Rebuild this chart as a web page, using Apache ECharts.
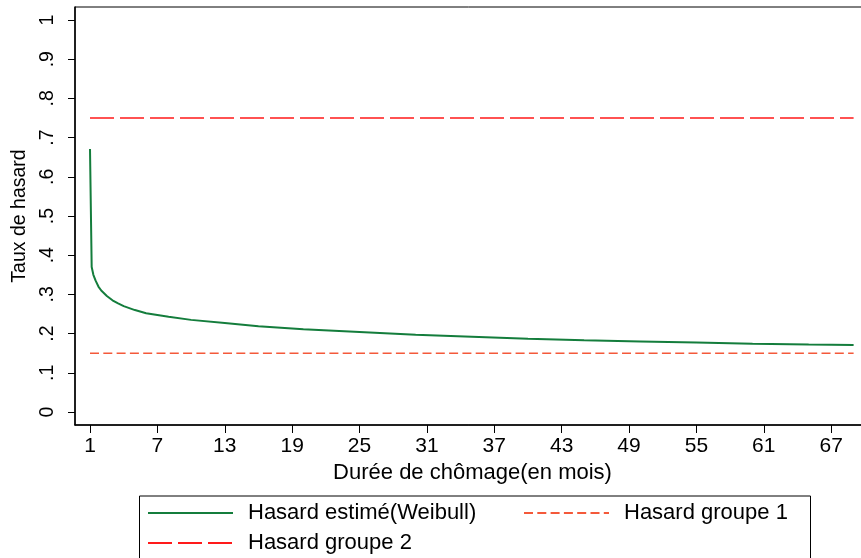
<!DOCTYPE html>
<html>
<head>
<meta charset="utf-8">
<script src="https://cdn.jsdelivr.net/npm/echarts@6/dist/echarts.min.js"></script>
<style>
html,body{margin:0;padding:0;background:#fff;}
#chart{width:861px;height:558px;}
</style>
</head>
<body>
<div id="chart"></div>
<script>
// ---- data ----
const duree = [1, 1.15, 1.3, 1.5, 1.75, 2, 2.5, 3, 3.5, 4, 5, 6, 8, 10, 13, 16, 20, 25, 30, 35, 40, 45, 50, 55, 60, 65, 69];
const hasardWeibull = [0.671, 0.37, 0.35, 0.335, 0.32, 0.31, 0.296, 0.285, 0.277, 0.270, 0.260, 0.252, 0.243, 0.235, 0.227, 0.219, 0.211, 0.204, 0.197, 0.192, 0.187, 0.183, 0.180, 0.177, 0.174, 0.172, 0.171];
const dureeGroupes = [1, 69];
const hasardGroupe1 = [0.15, 0.15];
const hasardGroupe2 = [0.75, 0.75];
const xTicks = [1, 7, 13, 19, 25, 31, 37, 43, 49, 55, 61, 67];
const yTicks = [0, 0.1, 0.2, 0.3, 0.4, 0.5, 0.6, 0.7, 0.8, 0.9, 1];
const yTickLabels = ['0', '.1', '.2', '.3', '.4', '.5', '.6', '.7', '.8', '.9', '1'];
const seriesNames = ['Hasard estimé(Weibull)', 'Hasard groupe 1', 'Hasard groupe 2'];

const pair = (xs, ys) => xs.map((x, i) => [x, ys[i]]);
const FONT = 'Liberation Sans';

const legendCommon = {
  orient: 'vertical', top: 502, height: 120,
  padding: 0, itemWidth: 85, itemHeight: 14, itemGap: 8,
  itemStyle: {opacity: 0, color: 'transparent', borderWidth: 0},
  textStyle: {fontFamily: FONT, fontSize: 22, lineHeight: 22, color: '#000', padding: [0, 0, 0, 10]},
  selectedMode: false
};

const chart = echarts.init(document.getElementById('chart'), null, {renderer: 'canvas'});
chart.setOption({
  animation: false,
  backgroundColor: '#fff',
  textStyle: {fontFamily: FONT, color: '#000'},
  grid: {
    left: 75, top: 7, width: 795, height: 418,
    show: true, borderColor: '#000', borderWidth: 1,
    containLabel: false, outerBoundsMode: 'none'
  },
  xAxis: {
    type: 'value', min: -0.336, max: 70.46,
    name: 'Durée de chômage(en mois)', nameLocation: 'middle', nameGap: 36,
    nameTextStyle: {fontFamily: FONT, fontSize: 22, color: '#000'},
    axisLine: {show: true, onZero: false, lineStyle: {color: '#000', width: 1.5}},
    axisTick: {show: true, length: 8, customValues: xTicks, lineStyle: {color: '#000', width: 1}},
    axisLabel: {customValues: xTicks, fontFamily: FONT, fontSize: 21, color: '#000', margin: 11},
    splitLine: {show: false}
  },
  yAxis: {
    type: 'value', min: -0.0332, max: 1.0332,
    name: 'Taux de hasard', nameLocation: 'middle', nameGap: 42,
    nameTextStyle: {fontFamily: FONT, fontSize: 19.5, color: '#000'},
    axisLine: {show: true, onZero: false, lineStyle: {color: '#000', width: 1.5}},
    axisTick: {show: true, length: 7, customValues: yTicks, lineStyle: {color: '#000', width: 1}},
    axisLabel: {
      customValues: yTicks, rotate: 90, fontFamily: FONT, fontSize: 19.5, color: '#000', margin: 17,
      formatter: (v) => { const i = yTicks.findIndex(t => Math.abs(t - v) < 1e-6); return i >= 0 ? yTickLabels[i] : ''; }
    },
    splitLine: {show: false}
  },
  legend: [
    Object.assign({}, legendCommon, {data: [seriesNames[0], seriesNames[2]], left: 147}),
    Object.assign({}, legendCommon, {data: [seriesNames[1]], left: 523})
  ],
  graphic: [{
    type: 'rect', left: 137, top: 493.5, silent: true,
    shape: {width: 671, height: 80},
    style: {fill: 'none', stroke: '#000', lineWidth: 1}
  }],
  series: [
    {
      name: seriesNames[0], type: 'line', data: pair(duree, hasardWeibull),
      symbol: 'none', smooth: false, color: '#147d3c',
      lineStyle: {color: '#147d3c', width: 2}
    },
    {
      name: seriesNames[1], type: 'line', data: pair(dureeGroupes, hasardGroupe1),
      symbol: 'none', color: '#f4593a',
      lineStyle: {color: '#f4593a', width: 1.5, type: [9, 4.3]}
    },
    {
      name: seriesNames[2], type: 'line', data: pair(dureeGroupes, hasardGroupe2),
      symbol: 'none', color: '#ff1a1a',
      lineStyle: {color: '#ff1a1a', width: 1.5, type: [24, 6]}
    }
  ]
});
</script>
</body>
</html>
